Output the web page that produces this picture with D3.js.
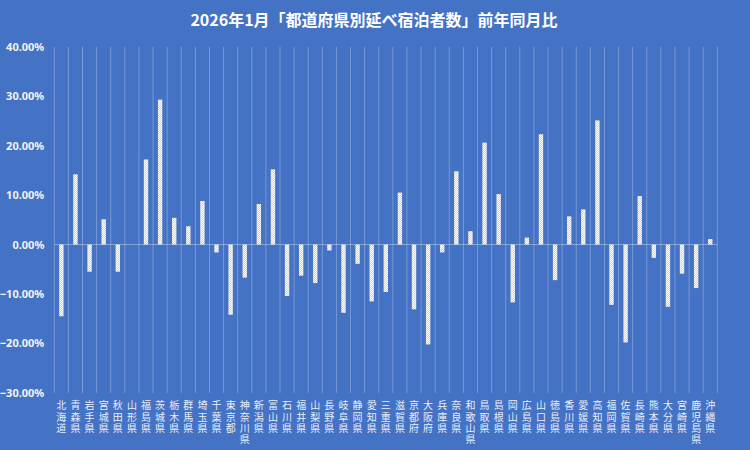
<!DOCTYPE html>
<html><head><meta charset="utf-8">
<script src="https://cdn.jsdelivr.net/npm/d3@7"></script>
<style>
html,body{margin:0;padding:0;background:#4472C4;}
svg{display:block;font-family:"Noto Sans CJK JP","Noto Sans",sans-serif;}
</style></head>
<body>
<svg id="chart" width="750" height="450"></svg>
<script>
const title = "2026年1月「都道府県別延べ宿泊者数」前年同月比";
const prefectures = ["北海道","青森県","岩手県","宮城県","秋田県","山形県","福島県","茨城県","栃木県","群馬県","埼玉県","千葉県","東京都","神奈川県","新潟県","富山県","石川県","福井県","山梨県","長野県","岐阜県","静岡県","愛知県","三重県","滋賀県","京都府","大阪府","兵庫県","奈良県","和歌山県","鳥取県","島根県","岡山県","広島県","山口県","徳島県","香川県","愛媛県","高知県","福岡県","佐賀県","長崎県","熊本県","大分県","宮崎県","鹿児島県","沖縄県"];
const changes = [-14.5,14.2,-5.5,5.1,-5.5,0.0,17.2,29.3,5.4,3.7,8.8,-1.6,-14.2,-6.7,8.2,15.2,-10.4,-6.3,-7.8,-1.2,-13.8,-3.9,-11.5,-9.6,10.5,-13.1,-20.2,-1.6,14.8,2.7,20.6,10.2,-11.7,1.4,22.3,-7.2,5.7,7.1,25.1,-12.2,-19.8,9.8,-2.7,-12.6,-5.9,-8.8,1.1];
const yTicks = [-30,-20,-10,0,10,20,30,40];

const svg = d3.select("#chart");
svg.append("rect").attr("width",750).attr("height",450).attr("fill","#4472C4");

const defs = svg.append("defs");
const pat = defs.append("pattern").attr("id","hatch").attr("patternUnits","userSpaceOnUse").attr("width",2).attr("height",2);
pat.append("rect").attr("width",2).attr("height",2).attr("fill","#c5d4ee");
pat.append("rect").attr("width",1).attr("height",1).attr("fill","#ffffff");
pat.append("rect").attr("x",1).attr("y",1).attr("width",1).attr("height",1).attr("fill","#ffffff");

const x = d3.scaleBand().domain(prefectures).range([54.3,717.3]).paddingInner(0).paddingOuter(0);
const y = d3.scaleLinear().domain([-30,40]).range([392.9,46.7]);

svg.append("text").attr("x",374).attr("y",26).attr("text-anchor","middle")
  .attr("fill","#ffffff").attr("font-size",16).attr("font-weight","bold").text(title);

// vertical gridlines
const bounds = prefectures.map(p=>x(p)).concat([x.range()[1]]);
svg.append("g").selectAll("line").data(bounds).join("line")
  .attr("x1",d=>d).attr("x2",d=>d).attr("y1",y(40)).attr("y2",y(-30))
  .attr("stroke","rgba(255,255,255,0.28)").attr("stroke-width",1);

// y axis
const yAxis = d3.axisLeft(y).tickValues(yTicks).tickSize(0).tickPadding(10)
  .tickFormat(d=>d3.format(".2f")(d)+"%");
const ga = svg.append("g").attr("transform","translate(54.3,0)").call(yAxis);
ga.select(".domain").remove();
ga.selectAll("text").attr("fill","#f2f2f2").attr("font-size",11).attr("font-weight","bold")
  .attr("font-family","'Noto Sans','Noto Sans CJK JP',sans-serif");

// bars
const bw = 4.4;
svg.append("g").selectAll("rect").data(prefectures).join("rect")
  .attr("x",(d,i)=>x(d)+x.bandwidth()/2-bw/2)
  .attr("y",(d,i)=>y(Math.max(0,changes[i])))
  .attr("width",bw)
  .attr("height",(d,i)=>Math.abs(y(changes[i])-y(0)))
  .attr("fill","url(#hatch)");

// zero line
svg.append("line").attr("x1",54.3).attr("x2",717.3).attr("y1",y(0)).attr("y2",y(0))
  .attr("stroke","rgba(255,255,255,0.35)").attr("stroke-width",1);

// category labels (vertical stacked characters)
const lg = svg.append("g");
prefectures.forEach(p=>{
  const cx = x(p)+x.bandwidth()/2;
  Array.from(p).forEach((ch,k)=>{
    lg.append("text").attr("x",cx).attr("y",404.7+k*11.4).attr("text-anchor","middle")
      .attr("dominant-baseline","central")
      .attr("fill","#e8eef8").attr("font-size",10).text(ch);
  });
});
</script>
</body></html>
